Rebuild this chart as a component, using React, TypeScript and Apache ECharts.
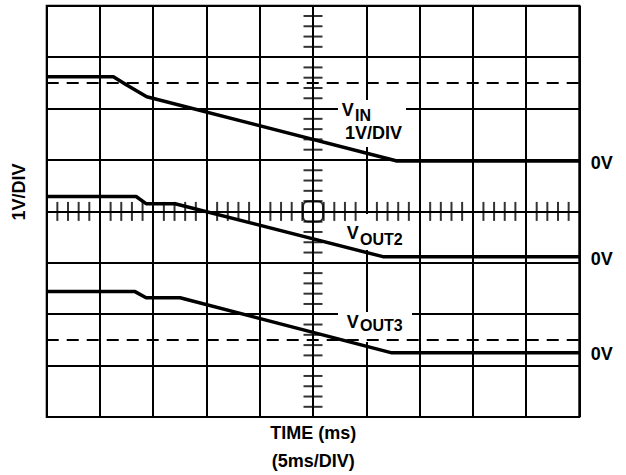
import React, { useEffect, useRef } from "react";
import * as echarts from "echarts";

// Time axis (ms), 5 ms/DIV, 10 divisions
const timeMin = 0;
const timeMax = 50;
const timeDiv = 5;
// Vertical axis in divisions (1 V/DIV), 8 divisions
const divMin = -4;
const divMax = 4;

// Traces: time (ms) and voltage (V) relative to each trace's 0V marker
const vinTime = [0, 6.26, 7.51, 9.39, 32.88, 50];
const vinVolts = [1.64, 1.64, 1.48, 1.25, 0, 0];
const vout2Time = [0, 8.39, 9.33, 12.05, 31.56, 50];
const vout2Volts = [1.17, 1.17, 1.03, 1.03, 0, 0];
const vout3Time = [0, 8.29, 9.33, 12.52, 32.4, 50];
const vout3Volts = [1.19, 1.19, 1.07, 1.07, 0, 0];

// 0V reference level of each trace on screen (divisions from centre)
const vinZeroDiv = 0.98;
const vout2ZeroDiv = -0.88;
const vout3ZeroDiv = -2.75;

// Dashed cursor levels (divisions)
const dashedLevels = [2.5, -2.5];

const FONT = '"Liberation Sans", Arial, Helvetica, sans-serif';

function toPoints(t: number[], v: number[], zero: number) {
  return t.map((x, i) => [x, v[i] + zero]);
}

export default function App() {
  const ref = useRef<HTMLDivElement>(null);

  useEffect(() => {
    if (!ref.current) return;
    const chart = echarts.init(ref.current, undefined, { renderer: "svg" });

    const xMinor: number[][] = [];
    for (let t = timeMin + 1; t < timeMax; t += 1) {
      if (t % timeDiv !== 0) xMinor.push([t, 0]);
    }
    const yMinor: number[][] = [];
    for (let k = divMin * 5 + 1; k < divMax * 5; k++) {
      if (k % 5 !== 0) yMinor.push([(timeMin + timeMax) / 2, k / 5]);
    }

    const traceStyle = { color: "#000", width: 3.5 };
    const text = (
      t: string,
      x: number,
      y: number,
      size: number,
      align: string = "left",
      extra: any = {}
    ) => ({
      type: "text",
      x,
      y,
      z: 10,
      ...extra,
      style: {
        text: t,
        font: `bold ${size}px ${FONT}`,
        fill: "#000",
        textAlign: align,
        textVerticalAlign: "middle",
      },
    });

    chart.setOption({
      animation: false,
      backgroundColor: "#fff",
      grid: {
        left: 46.7,
        top: 5.7,
        width: 532.6,
        height: 411.4,
        show: true,
        borderColor: "#000",
        borderWidth: 2,
      },
      xAxis: {
        type: "value",
        min: timeMin,
        max: timeMax,
        interval: timeDiv,
        axisLabel: { show: false },
        axisTick: { show: false },
        axisLine: { show: false },
        splitLine: { show: true, lineStyle: { color: "#000", width: 2 } },
      },
      yAxis: {
        type: "value",
        min: divMin,
        max: divMax,
        interval: 1,
        axisLabel: { show: false },
        axisTick: { show: false },
        axisLine: { show: false },
        splitLine: { show: true, lineStyle: { color: "#000", width: 2 } },
      },
      series: [
        {
          type: "line",
          name: "VIN",
          data: toPoints(vinTime, vinVolts, vinZeroDiv),
          symbol: "none",
          lineStyle: traceStyle,
          z: 4,
          markLine: {
            silent: true,
            symbol: "none",
            label: { show: false },
            lineStyle: { color: "#000", width: 2, type: [12, 8] },
            data: dashedLevels.map((y) => ({ yAxis: y })),
          },
        },
        {
          type: "line",
          name: "VOUT2",
          data: toPoints(vout2Time, vout2Volts, vout2ZeroDiv),
          symbol: "none",
          lineStyle: traceStyle,
          z: 4,
        },
        {
          type: "line",
          name: "VOUT3",
          data: toPoints(vout3Time, vout3Volts, vout3ZeroDiv),
          symbol: "none",
          lineStyle: traceStyle,
          z: 4,
        },
        {
          type: "scatter",
          silent: true,
          data: xMinor,
          symbol: "rect",
          symbolSize: [2, 19],
          itemStyle: { color: "#000" },
          z: 3,
        },
        {
          type: "scatter",
          silent: true,
          data: yMinor,
          symbol: "rect",
          symbolSize: [19, 2],
          itemStyle: { color: "#000" },
          z: 3,
        },
        {
          type: "scatter",
          silent: true,
          data: [[(timeMin + timeMax) / 2, 0]],
          symbol: "roundRect",
          symbolSize: 20,
          itemStyle: { color: "rgba(0,0,0,0)", borderColor: "#000", borderWidth: 2 },
          z: 3,
        },
      ],
      graphic: [
        { type: "rect", z: 1, shape: { x: 338, y: 100, width: 68, height: 47 }, style: { fill: "#fff" } },
        { type: "rect", z: 1, shape: { x: 338, y: 214, width: 72, height: 36 }, style: { fill: "#fff" } },
        { type: "rect", z: 1, shape: { x: 338, y: 312, width: 74, height: 30 }, style: { fill: "#fff" } },
        text("V", 341.7, 110, 18),
        text("IN", 355, 115.8, 16),
        text("1V/DIV", 345, 133.3, 18),
        text("V", 346.7, 233.3, 18),
        text("OUT2", 360, 239.2, 16),
        text("V", 346.7, 321.7, 18),
        text("OUT3", 360, 325.8, 16),
        text("0V", 590.7, 162.5, 18),
        text("0V", 590.7, 258.7, 18),
        text("0V", 590.7, 353.8, 18),
        text("TIME (ms)", 313.3, 433, 18, "center"),
        text("(5ms/DIV)", 313.3, 461, 18, "center"),
        text("1V/DIV", 19, 192, 18, "center", { rotation: Math.PI / 2 }),
      ],
    });

    return () => chart.dispose();
  }, []);

  return (
    <div
      ref={ref}
      style={{ position: "fixed", left: 0, top: 0, width: 626, height: 475 }}
    />
  );
}
